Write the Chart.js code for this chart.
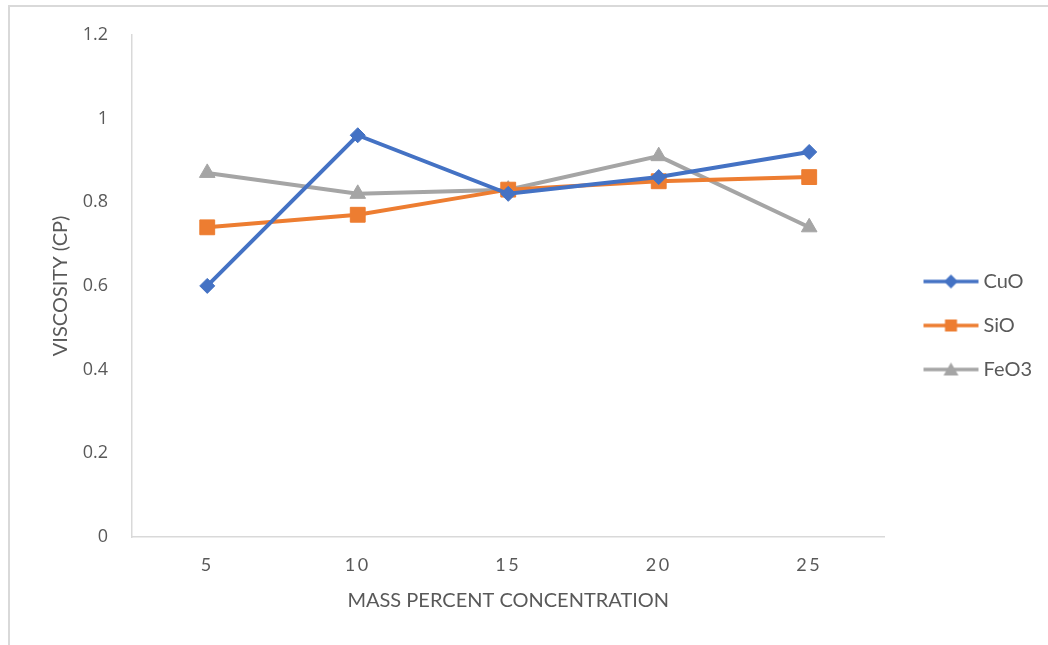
<!DOCTYPE html>
<html>
<head>
<meta charset="utf-8">
<script src="https://cdn.jsdelivr.net/npm/chart.js@4"></script>
<style>
  html, body { margin: 0; padding: 0; background: #fff; }
  #wrap { position: relative; width: 1048px; height: 645px; }
  #frame { position: absolute; left: 8px; top: 5px; right: -4px; bottom: -4px; border-left: 2px solid #d9d9d9; border-top: 2px solid #d9d9d9; pointer-events: none; }
  canvas { position: absolute; left: 0; top: 0; }
</style>
</head>
<body>
<div id="wrap">
  <canvas id="chart_viscosity" width="1048" height="645"></canvas>
  <div id="frame"></div>
</div>
<script>
var concentrations = ['5', '10', '15', '20', '25'];
var cuoValues = [0.60, 0.96, 0.82, 0.86, 0.92];
var sioValues = [0.74, 0.77, 0.83, 0.85, 0.86];
var feo3Values = [0.87, 0.82, 0.83, 0.91, 0.74];
var yTicks = [0, 0.2, 0.4, 0.6, 0.8, 1, 1.2];

var textColor = '#595959';
var axisColor = '#d9d9d9';

// legend swatch: line with the marker in the middle, like the office legend.
// drawn wider than pointStyleWidth so the line sits close to the text
function legendSwatch(color, shape) {
    var c = document.createElement('canvas');
    c.width = 77; c.height = 18;
    var ctx = c.getContext('2d');
    var x0 = 21, x1 = 76, mid = (x0 + x1) / 2;
    ctx.strokeStyle = color;
    ctx.fillStyle = color;
    ctx.lineWidth = 3.5;
    ctx.beginPath();
    ctx.moveTo(x0, 9); ctx.lineTo(x1, 9);
    ctx.stroke();
    ctx.beginPath();
    if (shape === 'diamond') {
        ctx.moveTo(mid, 2); ctx.lineTo(mid + 7, 9); ctx.lineTo(mid, 16); ctx.lineTo(mid - 7, 9);
    } else if (shape === 'square') {
        ctx.rect(mid - 6, 3, 12, 12);
    } else {
        ctx.moveTo(mid, 2); ctx.lineTo(mid + 7.5, 15); ctx.lineTo(mid - 7.5, 15);
    }
    ctx.closePath();
    ctx.fill();
    return c;
}

var swatches = [
    legendSwatch('#4472C4', 'diamond'),
    legendSwatch('#ED7D31', 'square'),
    legendSwatch('#A5A5A5', 'triangle')
];

var chart_viscosity = new Chart(document.getElementById('chart_viscosity'), {
    type: 'line',
    data: {
        labels: concentrations,
        datasets: [
            {
                label: 'CuO',
                data: cuoValues,
                borderColor: '#4472C4',
                backgroundColor: '#4472C4',
                borderWidth: 4,
                pointStyle: 'rectRot',
                pointRadius: 7.5,
                pointBorderWidth: 1
            },
            {
                label: 'SiO',
                data: sioValues,
                borderColor: '#ED7D31',
                backgroundColor: '#ED7D31',
                borderWidth: 4,
                pointStyle: 'rect',
                pointRadius: 10.5,
                pointBorderWidth: 1
            },
            {
                label: 'FeO3',
                data: feo3Values,
                borderColor: '#A5A5A5',
                backgroundColor: '#A5A5A5',
                borderWidth: 4,
                pointStyle: 'triangle',
                pointRadius: 9,
                pointBorderWidth: 1
            }
        ]
    },
    options: {
        animation: false,
        responsive: false,
        maintainAspectRatio: false,
        layout: {
            padding: { left: 45, top: 34, right: 6, bottom: 28 }
        },
        plugins: {
            title: { display: false },
            tooltip: { enabled: false },
            legend: {
                position: 'right',
                align: 'center',
                labels: {
                    usePointStyle: true,
                    pointStyleWidth: 65,
                    padding: 24,
                    color: textColor,
                    font: { family: 'Lato', size: 20 },
                    generateLabels: function (chart) {
                        return chart.data.datasets.map(function (ds, i) {
                            return {
                                text: ds.label,
                                pointStyle: swatches[i],
                                fillStyle: ds.backgroundColor,
                                strokeStyle: ds.borderColor,
                                lineWidth: 0,
                                fontColor: textColor,
                                hidden: false,
                                datasetIndex: i
                            };
                        });
                    }
                }
            }
        },
        scales: {
            x: {
                display: true,
                offset: true,
                grid: { display: false, drawTicks: false },
                border: { display: true, color: axisColor, width: 1.5 },
                ticks: {
                    color: textColor,
                    padding: 17,
                    font: { family: 'Lato', size: 18 }
                },
                title: {
                    display: true,
                    text: 'MASS PERCENT CONCENTRATION',
                    color: textColor,
                    font: { family: 'Lato', size: 20 }
                },
                afterFit: function (scale) { scale.height = 80; }
            },
            y: {
                display: true,
                min: 0,
                max: 1.2,
                grid: { display: false, drawTicks: false },
                border: { display: true, color: axisColor, width: 1.5 },
                afterBuildTicks: function (scale) {
                    scale.ticks = yTicks.map(function (v) { return { value: v }; });
                },
                ticks: {
                    color: textColor,
                    padding: 24,
                    font: { family: 'Open Sans', size: 18 },
                    callback: function (v) { return String(+v.toFixed(1)); }
                },
                title: {
                    display: true,
                    text: 'VISCOSITY (CP)',
                    color: textColor,
                    font: { family: 'Lato', size: 20 }
                },
                afterFit: function (scale) { scale.width = 87; }
            }
        }
    },
    plugins: [{
        id: 'customPlugin',
        beforeDraw: (chart, args, options) => {
            const ctx = chart.canvas.getContext('2d');
            ctx.save();
            ctx.globalCompositeOperation = 'destination-over';
            ctx.fillStyle = 'white';
            ctx.fillRect(0, 0, chart.canvas.width, chart.canvas.height);
            ctx.restore();
        }
    }, {
        // spaced-out digits on the category axis
        id: 'xTickSpacing',
        afterLayout: (chart) => {
            const s = chart.scales.x;
            if (s && !s._spaced) {
                const orig = s.drawLabels.bind(s);
                s.drawLabels = function (area) {
                    this.ctx.save();
                    this.ctx.letterSpacing = '2.5px';
                    orig(area);
                    this.ctx.restore();
                };
                s._spaced = true;
            }
        }
    }]
});
</script>
</body>
</html>
